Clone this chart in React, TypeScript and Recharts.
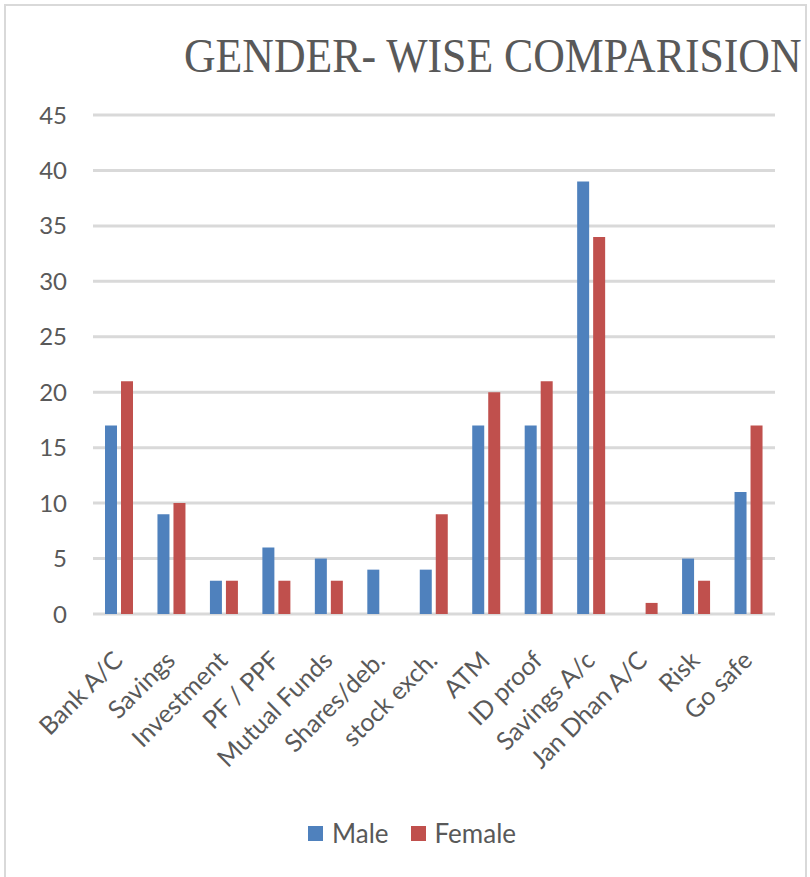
import React from "react";
import { BarChart, Bar, XAxis, YAxis, CartesianGrid } from "recharts";

// Survey categories and counts per gender
const categories: string[] = [
  "Bank A/C",
  "Savings",
  "Investment",
  "PF / PPF",
  "Mutual Funds",
  "Shares/deb.",
  "stock exch.",
  "ATM",
  "ID proof",
  "Savings A/c",
  "Jan Dhan A/C",
  "Risk",
  "Go safe",
];
const maleValues: number[] = [17, 9, 3, 6, 5, 4, 4, 17, 17, 39, 0, 5, 11];
const femaleValues: number[] = [21, 10, 3, 3, 3, 0, 9, 20, 21, 34, 1, 3, 17];
const yTicks: number[] = [0, 5, 10, 15, 20, 25, 30, 35, 40, 45];

const seriesInfo = [
  { key: "male", name: "Male", color: "#4F81BD" },
  { key: "female", name: "Female", color: "#C0504D" },
];

const chartData = categories.map((name, i) => ({
  name,
  male: maleValues[i],
  female: femaleValues[i],
}));

const TEXT = "#595959";
const FONT = "Lato, 'Open Sans', sans-serif";

const CategoryTick = (props: any) => {
  const { x, y, payload } = props;
  const ax = x + 5;
  const ay = y + 40;
  return (
    <text
      x={ax}
      y={ay}
      transform={`rotate(-45, ${ax}, ${ay})`}
      textAnchor="end"
      fill={TEXT}
      fontSize={25}
      fontFamily={FONT}
    >
      {payload.value}
    </text>
  );
};

export default function App() {
  return (
    <div
      style={{
        position: "absolute",
        left: 0,
        top: 0,
        width: 810,
        height: 877,
        background: "#fff",
        overflow: "hidden",
      }}
    >
      <div
        style={{
          position: "absolute",
          left: 4,
          top: 4,
          width: 799,
          height: 900,
          border: "2px solid #d9d9d9",
        }}
      />
      <svg
        width={810}
        height={100}
        style={{ position: "absolute", left: 0, top: 0 }}
      >
        {/* condensed serif title */}
        <text
          x={0}
          y={0}
          transform="translate(184, 72) scale(0.912, 1)"
          fill={TEXT}
          fontSize={48}
          fontFamily="'Liberation Serif', 'Times New Roman', serif"
        >
          GENDER- WISE COMPARISION
        </text>
      </svg>
      <div style={{ position: "absolute", left: 0, top: 0 }}>
        <BarChart
          width={810}
          height={877}
          data={chartData}
          margin={{ top: 115, right: 35, left: 33, bottom: 113 }}
          barSize={12}
          barGap={4}
        >
          <CartesianGrid
            vertical={false}
            stroke="#d9d9d9"
            strokeWidth={3}
          />
          <XAxis
            dataKey="name"
            interval={0}
            height={150}
            axisLine={false}
            tickLine={false}
            tick={<CategoryTick />}
          />
          <YAxis
            width={60}
            domain={[0, 45]}
            ticks={yTicks}
            axisLine={false}
            tickLine={false}
            tickMargin={20}
            tick={{ fill: TEXT, fontSize: 24, fontFamily: FONT }}
          />
          {seriesInfo.map((s) => (
            <Bar
              key={s.key}
              dataKey={s.key}
              name={s.name}
              fill={s.color}
              isAnimationActive={false}
            />
          ))}
        </BarChart>
      </div>
      <div
        style={{
          position: "absolute",
          top: 817,
          left: 0,
          width: 810,
          display: "flex",
          justifyContent: "center",
          fontFamily: FONT,
          fontSize: 26,
          color: TEXT,
        }}
      >
        <div style={{ display: "flex", alignItems: "center", marginLeft: 14 }}>
          {seriesInfo.map((s, i) => (
            <div
              key={s.key}
              style={{
                display: "flex",
                alignItems: "center",
                marginLeft: i === 0 ? 0 : 22,
              }}
            >
              <span
                style={{
                  display: "inline-block",
                  width: 15,
                  height: 15,
                  background: s.color,
                  marginRight: 9,
                }}
              />
              <span>{s.name}</span>
            </div>
          ))}
        </div>
      </div>
    </div>
  );
}
